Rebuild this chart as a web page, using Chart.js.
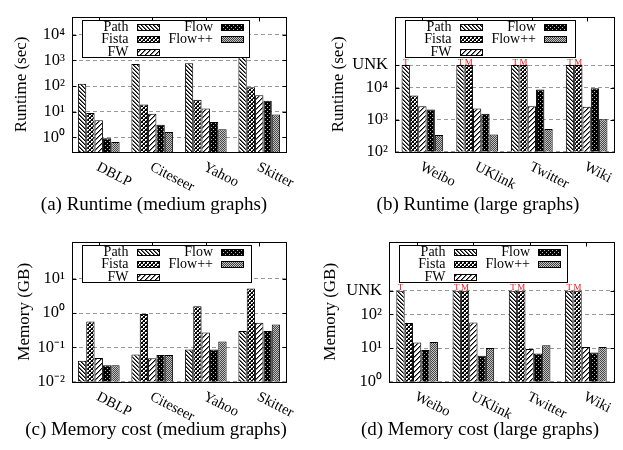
<!DOCTYPE html>
<html>
<head>
<meta charset="utf-8">
<script src="https://cdn.jsdelivr.net/npm/chart.js@4.4.1/dist/chart.umd.min.js"></script>
<style>
    body { margin: 0; background: #fff; width: 623px; height: 450px; position: relative; overflow: hidden; font-family: "Liberation Serif", serif; }
    .panel { position: absolute; }
    .caption { position: absolute; font-size: 19px; white-space: nowrap; transform: translate(-50%, -50%); color: #000; }
</style>
</head>
<body>
<div class="panel" style="left:0;top:0"><canvas id="chartA" width="311" height="200"></canvas></div>
<div class="panel" style="left:311px;top:0"><canvas id="chartB" width="312" height="200"></canvas></div>
<div class="panel" style="left:0;top:225px"><canvas id="chartC" width="311" height="200"></canvas></div>
<div class="panel" style="left:311px;top:225px"><canvas id="chartD" width="312" height="200"></canvas></div>
<div class="caption" style="left:154px;top:204px">(a) Runtime (medium graphs)</div>
<div class="caption" style="left:478px;top:204px">(b) Runtime (large graphs)</div>
<div class="caption" style="left:156px;top:429px">(c) Memory cost (medium graphs)</div>
<div class="caption" style="left:480px;top:429px">(d) Memory cost (large graphs)</div>

<script>
"use strict";

// --- Data ---
const methods = ["Path", "Fista", "FW", "Flow", "Flow++"];
const mediumGraphs = ["DBLP", "Citeseer", "Yahoo", "Skitter"];
const largeGraphs = ["Weibo", "UKlink", "Twitter", "Wiki"];

// letter shown above a bar that hit UNK (T = timeout, M = out of memory)
const unkLetters = ["T", "M", "", "", ""];

const RUNTIME_UNK = 50000;
const MEMORY_UNK = 500;

// (a) runtime, medium graphs (sec)
const runtimeMedPath = [124, 720, 780, 1550];
const runtimeMedFista = [8.8, 19, 29, 91];
const runtimeMedFW = [4.6, 8.3, 13.3, 43.5];
const runtimeMedFlow = [0.92, 3.1, 4.0, 26.5];
const runtimeMedFlowPP = [0.65, 1.6, 2.05, 7.7];

// (b) runtime, large graphs (sec)
const runtimeLargePath = [RUNTIME_UNK, RUNTIME_UNK, RUNTIME_UNK, RUNTIME_UNK];
const runtimeLargeFista = [5650, RUNTIME_UNK, RUNTIME_UNK, RUNTIME_UNK];
const runtimeLargeFW = [2620, 2230, 2620, 2530];
const runtimeLargeFlow = [2080, 1520, 8700, 9500];
const runtimeLargeFlowPP = [333, 346, 513, 1030];

// (c) memory, medium graphs (GB)
const memoryMedPath = [0.041, 0.062, 0.086, 0.30];
const memoryMedFista = [0.57, 0.93, 1.56, 5.2];
const memoryMedFW = [0.049, 0.048, 0.27, 0.52];
const memoryMedFlow = [0.030, 0.060, 0.086, 0.30];
const memoryMedFlowPP = [0.030, 0.060, 0.147, 0.46];

// (d) memory, large graphs (GB)
const memoryLargePath = [MEMORY_UNK, MEMORY_UNK, MEMORY_UNK, MEMORY_UNK];
const memoryLargeFista = [55, MEMORY_UNK, MEMORY_UNK, MEMORY_UNK];
const memoryLargeFW = [14.5, 57, 9.3, 10.8];
const memoryLargeFlow = [8.7, 5.9, 6.9, 7.3];
const memoryLargeFlowPP = [15, 10, 12, 10.8];

// y tick values and labels
const runtimeMedTicks = [1, 10, 100, 1000, 10000];
const runtimeMedTickLabels = ["10⁰", "10¹", "10²", "10³", "10⁴"];
const runtimeLargeTicks = [100, 1000, 10000, RUNTIME_UNK];
const runtimeLargeTickLabels = ["10²", "10³", "10⁴", "UNK"];
const memoryMedTicks = [0.01, 0.1, 1, 10];
const memoryMedTickLabels = ["10⁻²", "10⁻¹", "10⁰", "10¹"];
const memoryLargeTicks = [1, 10, 100, MEMORY_UNK];
const memoryLargeTickLabels = ["10⁰", "10¹", "10²", "UNK"];

const FONT = "'Liberation Serif', serif";

// --- Fill patterns (gnuplot style), drawn pixel by pixel ---
function makePattern(kind) {
    const c = document.createElement("canvas");
    const g = c.getContext("2d");
    const px = (x, y, col) => { g.fillStyle = col; g.fillRect(x, y, 1, 1); };
    if (kind === "Path") {
        c.width = c.height = 4;
        g.fillStyle = "#fff"; g.fillRect(0, 0, 4, 4);
        for (let y = 0; y < 4; y++) { px(y, y, "#000"); px((y + 1) % 4, y, "#666"); }
    } else if (kind === "Fista") {
        c.width = c.height = 4;
        g.fillStyle = "#fff"; g.fillRect(0, 0, 4, 4);
        for (let y = 0; y < 4; y++) { px(y, y, "#000"); px(3 - y, y, "#000"); }
        px(0, 2, "#555"); px(2, 0, "#555");
    } else if (kind === "FW") {
        c.width = c.height = 5;
        g.fillStyle = "#fff"; g.fillRect(0, 0, 5, 5);
        for (let y = 0; y < 5; y++) { px((4 - y) % 5, y, "#000"); px((5 - y) % 5, y, "#777"); }
    } else if (kind === "Flow") {
        c.width = c.height = 4;
        g.fillStyle = "#000"; g.fillRect(0, 0, 4, 4);
        px(1, 1, "#bbb"); px(3, 3, "#bbb");
    } else {
        c.width = c.height = 2;
        g.fillStyle = "#c4c4c4"; g.fillRect(0, 0, 2, 2);
        px(0, 0, "#444"); px(1, 1, "#444");
    }
    return g.createPattern(c, "repeat");
}

const patterns = methods.map(makePattern);

// --- Plugin: frame, legend, rotated x labels, UNK letters ---
const decorPlugin = {
    id: "decor",
    afterDatasetsDraw(chart) {
        const ctx = chart.ctx;
        const a = chart.chartArea;
        const cfg = chart.options.plugins.decor;
        const xs = chart.scales.x;
        const ys = chart.scales.y;
        const L = Math.round(a.left) + 0.5, T = Math.round(a.top) + 0.5;
        const R = Math.round(a.right) + 0.5, B = Math.round(a.bottom) + 0.5;

        ctx.save();
        // tick marks
        ctx.strokeStyle = "#000";
        ctx.lineWidth = 1;
        ctx.beginPath();
        xs.ticks.forEach((t, i) => {
            const x = Math.round(xs.getPixelForTick(i)) + 0.5;
            ctx.moveTo(x, T); ctx.lineTo(x, T + 4);
        });
        ys.ticks.forEach((t, i) => {
            const y = Math.round(ys.getPixelForTick(i)) + 0.5;
            ctx.moveTo(L, y); ctx.lineTo(L + 4, y);
            ctx.moveTo(R, y); ctx.lineTo(R - 4, y);
        });
        ctx.stroke();

        // UNK letters
        ctx.fillStyle = "#e8141b";
        ctx.font = "9px " + FONT;
        ctx.textAlign = "center";
        ctx.textBaseline = "alphabetic";
        chart.data.datasets.forEach((ds, di) => {
            const letter = unkLetters[di];
            if (!letter) return;
            const meta = chart.getDatasetMeta(di);
            ds.data.forEach((v, i) => {
                if (v >= cfg.unk) {
                    const bar = meta.data[i];
                    ctx.fillText(letter, bar.x, bar.y - 0.5);
                }
            });
        });

        // legend box
        const bx = Math.round(a.left + 10) + 0.5;
        const by = Math.round(a.top + 3) + 0.5;
        const bw = cfg.legendWidth, bh = 37;
        ctx.fillStyle = "#fff";
        ctx.fillRect(bx, by, bw, bh);
        ctx.strokeStyle = "#000";
        ctx.strokeRect(bx, by, bw, bh);
        ctx.font = "14px " + FONT;
        ctx.textAlign = "right";
        ctx.textBaseline = "middle";
        chart.data.datasets.forEach((ds, di) => {
            const col = di < 3 ? 0 : 1;
            const row = di < 3 ? di : di - 3;
            const ry = by + 6 + row * 12.6;
            const tx = bx + (col === 0 ? 46 : 130.5);
            const sx = Math.round(bx + (col === 0 ? 54 : 138.5)) + 0.5;
            ctx.fillStyle = "#000";
            ctx.fillText(ds.label, tx, ry + 0.5);
            ctx.fillStyle = ds.backgroundColor;
            ctx.fillRect(sx, Math.round(ry - 3) + 0.5, 22, 6);
            ctx.strokeRect(sx, Math.round(ry - 3) + 0.5, 22, 6);
        });

        // frame
        ctx.strokeStyle = "#000";
        ctx.strokeRect(L, T, R - L, B - T);

        // rotated category labels
        ctx.fillStyle = "#000";
        ctx.font = "14.5px " + FONT;
        ctx.textAlign = "left";
        ctx.textBaseline = "top";
        chart.data.labels.forEach((lab, i) => {
            const x = xs.getPixelForTick(i);
            ctx.save();
            ctx.translate(x + 2, a.bottom + 8);
            ctx.rotate(27 * Math.PI / 180);
            ctx.fillText(lab, 0, 0);
            ctx.restore();
        });
        ctx.restore();
    }
};

function buildChart(id, opts) {
    const datasets = methods.map((m, i) => ({
        label: m,
        data: opts.series[i],
        backgroundColor: patterns[i],
        borderColor: "#000",
        borderWidth: 1,
        barPercentage: 1.0,
        categoryPercentage: opts.catPct
    }));
    return new Chart(document.getElementById(id), {
        type: "bar",
        data: { labels: opts.labels, datasets: datasets },
        plugins: [decorPlugin],
        options: {
            responsive: false,
            animation: false,
            layout: { padding: { left: 0, top: opts.padTop, right: opts.padRight, bottom: 0 } },
            plugins: {
                legend: { display: false },
                tooltip: { enabled: false },
                decor: { unk: opts.unk, legendWidth: opts.legendWidth }
            },
            scales: {
                x: {
                    grid: { display: false },
                    border: { display: false },
                    ticks: { display: false },
                    afterFit: (s) => { s.height = opts.xHeight; }
                },
                y: {
                    type: "logarithmic",
                    min: opts.min,
                    max: opts.max,
                    afterFit: (s) => { s.width = opts.yWidth; },
                    afterBuildTicks: (s) => { s.ticks = opts.ticks.map(v => ({ value: v })); },
                    grid: { color: "#999", lineWidth: 1, drawTicks: false },
                    border: { display: false, dash: [4, 3] },
                    ticks: {
                        autoSkip: false,
                        padding: 7,
                        color: "#000",
                        font: { family: FONT, size: 16.5 },
                        callback: (v) => opts.tickLabels[opts.ticks.indexOf(v)]
                    },
                    title: {
                        display: true,
                        text: opts.yTitle,
                        color: "#000",
                        font: { family: FONT, size: 17, lineHeight: 1 },
                        padding: { top: opts.titlePad, bottom: 0 }
                    }
                }
            }
        }
    });
}

buildChart("chartA", {
    labels: mediumGraphs,
    series: [runtimeMedPath, runtimeMedFista, runtimeMedFW, runtimeMedFlow, runtimeMedFlowPP],
    ticks: runtimeMedTicks, tickLabels: runtimeMedTickLabels,
    min: Math.pow(10, -0.573), max: Math.pow(10, 4.70),
    yTitle: "Runtime (sec)", unk: Infinity,
    padTop: 4.5, padRight: 25, yWidth: 72, xHeight: 48, catPct: 0.78,
    titlePad: 13, legendWidth: 167
});

buildChart("chartB", {
    labels: largeGraphs,
    series: [runtimeLargePath, runtimeLargeFista, runtimeLargeFW, runtimeLargeFlow, runtimeLargeFlowPP],
    ticks: runtimeLargeTicks, tickLabels: runtimeLargeTickLabels,
    min: 100, max: Math.pow(10, 6.2),
    yTitle: "Runtime (sec)", unk: RUNTIME_UNK,
    padTop: 4.5, padRight: 9, yWidth: 84, xHeight: 48.3, catPct: 0.76,
    titlePad: 19.5, legendWidth: 170
});

buildChart("chartC", {
    labels: mediumGraphs,
    series: [memoryMedPath, memoryMedFista, memoryMedFW, memoryMedFlow, memoryMedFlowPP],
    ticks: memoryMedTicks, tickLabels: memoryMedTickLabels,
    min: 0.01, max: Math.pow(10, 2.07),
    yTitle: "Memory (GB)", unk: Infinity,
    padTop: 9.5, padRight: 25, yWidth: 72, xHeight: 43.3, catPct: 0.78,
    titlePad: 16, legendWidth: 169
});

buildChart("chartD", {
    labels: largeGraphs,
    series: [memoryLargePath, memoryLargeFista, memoryLargeFW, memoryLargeFlow, memoryLargeFlowPP],
    ticks: memoryLargeTicks, tickLabels: memoryLargeTickLabels,
    min: 1, max: Math.pow(10, 4.15),
    yTitle: "Memory (GB)", unk: MEMORY_UNK,
    padTop: 9.5, padRight: 9, yWidth: 78, xHeight: 43.3, catPct: 0.74,
    titlePad: 11.5, legendWidth: 168
});
</script>
</body>
</html>
